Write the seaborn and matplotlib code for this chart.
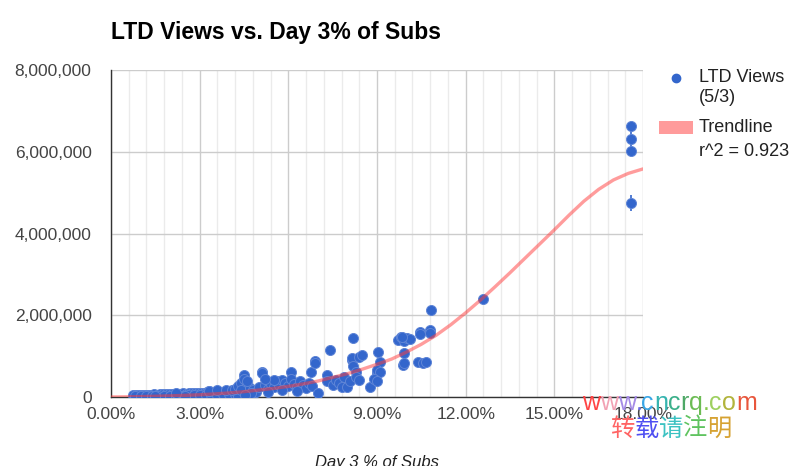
import numpy as np
import pandas as pd
import matplotlib
matplotlib.use("Agg")
import matplotlib.pyplot as plt
import matplotlib.ticker as mticker
from matplotlib.transforms import IdentityTransform
from matplotlib.patches import Rectangle
import seaborn as sns

# -------------------------------------------------------
# Data
# day 3 % of subs (in percent), LTD views (in thousands)
# -------------------------------------------------------
day3_pct = [
    0.75, 0.85, 0.95, 1.05, 1.15, 1.25, 1.35, 1.45, 1.55, 1.65, 1.75, 1.85,
    1.95, 2.05, 2.15, 2.25, 2.35, 2.45, 2.55, 2.65, 2.75, 2.85, 2.95, 3.05,
    3.15, 3.25, 3.35, 3.45, 3.55, 3.65, 3.75, 3.85, 3.95, 4.05, 4.15, 4.25,
    4.35,
    0.8, 1.0, 1.2, 1.4, 1.6, 1.8, 2.0, 2.2, 2.4, 2.6, 2.8, 3.0, 3.2, 3.4,
    3.6, 3.8, 4.0, 4.2,
    1.5, 2.5, 3.3, 4.3, 2.2, 3.3, 3.6, 3.9, 4.1,
    4.2, 4.3, 4.4, 4.5, 4.5, 4.6, 4.4, 4.7, 4.8, 4.6, 4.9, 4.75, 4.55,
    5.1, 5.1, 5.0, 5.2, 5.3, 5.4, 5.5, 5.6, 5.7, 5.8, 5.9, 6.0, 6.1, 6.1,
    6.2, 6.3, 6.4, 6.5, 6.6, 6.75, 6.7, 6.8, 6.9, 6.9, 7.0, 5.3, 5.8, 6.3,
    5.5, 5.2,
    7.4, 7.3, 7.3, 7.5, 7.6, 7.7, 7.8, 7.9, 8.0, 8.1, 8.2, 8.17, 8.17, 8.2,
    8.3, 8.4, 8.3, 8.4, 8.5, 8.78, 9.0, 9.05, 9.1, 9.0, 9.1, 8.9, 9.0,
    9.7, 9.8, 9.9, 10.0, 10.1, 9.85, 10.47, 10.47, 10.8, 10.8, 10.84,
    9.93, 9.87, 9.9, 10.4, 10.55, 10.65,
    12.6, 17.6, 17.6, 17.6, 17.6,
]
ltd_views_k = [
    45, 50, 40, 55, 48, 60, 52, 65, 58, 70, 62, 75,
    68, 80, 72, 85, 78, 90, 82, 95, 88, 100, 92, 105,
    98, 112, 104, 118, 108, 125, 115, 130, 120, 138, 128, 145,
    135,
    15, 18, 20, 22, 25, 28, 30, 33, 36, 40, 44, 48, 52, 56,
    60, 65, 70, 75,
    15, 25, 140, 30, 110, 150, 160, 175, 180,
    200, 260, 350, 540, 450, 300, 180, 220, 160, 400, 120, 90, 60,
    610, 580, 250, 300, 200, 330, 250, 380, 300, 420, 350, 280, 600, 450,
    330, 250, 380, 300, 220, 610, 350, 260, 880, 830, 110, 120, 180, 150,
    420, 450,
    1150, 540, 380, 300, 420, 350, 250, 480, 250, 400, 1440, 900, 950, 750,
    620, 980, 500, 420, 1030, 250, 580, 1100, 860, 650, 600, 450, 380,
    1400, 1460, 1380, 1440, 1420, 1470, 1600, 1540, 1640, 1570, 2130,
    1070, 780, 820, 850, 830, 860,
    2390, 6620, 6300, 6020, 4750,
]

# polynomial trendline, every 0.5 %
trend_pct = [0, 0.5, 1, 1.5, 2, 2.5, 3, 3.5, 4, 4.5, 5, 5.5, 6, 6.5, 7, 7.5,
             8, 8.5, 9, 9.5, 10, 10.5, 11, 11.5, 12, 12.5, 13, 13.5, 14, 14.5,
             15, 15.5, 16, 16.5, 17, 17.5, 18]
trend_views_k = [0, 4, 10, 18, 28, 40, 55, 75, 100, 130, 170, 210, 260, 320,
                 390, 480, 570, 680, 800, 930, 1100, 1290, 1510, 1770, 2060,
                 2370, 2700, 3040, 3390, 3740, 4090, 4450, 4790, 5080, 5310,
                 5470, 5580]

# spread of the stacked points at 17.6 %
spread_pct = [17.6, 17.6]
spread_mid_k = [4750, 6310]
spread_half_k = [200, 310]

title = "LTD Views vs. Day 3% of Subs"
x_title = "Day 3 % of Subs"
y_ticks = [0, 2000000, 4000000, 6000000, 8000000]

BLUE = "#3366cc"
TREND = "#ff3b3b"
TXT = "#444444"

df = pd.DataFrame({"pct": np.array(day3_pct) / 100.0,
                   "views": np.array(ltd_views_k) * 1000.0})
df_trend = pd.DataFrame({"pct": np.array(trend_pct) / 100.0,
                         "views": np.array(trend_views_k) * 1000.0})

sns.set_style("white")
plt.rcParams["font.family"] = ["Liberation Sans", "DejaVu Sans"]

fig = plt.figure(figsize=(8, 4.66), dpi=100)
ax = fig.add_axes([111 / 800, 1 - 397 / 466, 532 / 800, 327 / 466])

# grid
ax.set_xlim(0, 0.18)
ax.set_ylim(0, 8000000)
ax.xaxis.set_major_locator(mticker.MultipleLocator(0.03))
ax.xaxis.set_minor_locator(mticker.MultipleLocator(0.006))
ax.set_yticks(y_ticks)
ax.grid(which="major", axis="both", color="#cccccc", lw=1)
ax.grid(which="minor", axis="x", color="#ebebeb", lw=1)
ax.set_axisbelow(True)

# points
ax.errorbar(np.array(spread_pct) / 100.0, np.array(spread_mid_k) * 1000.0,
            yerr=np.array(spread_half_k) * 1000.0, fmt="none",
            ecolor=BLUE, elinewidth=1.2, zorder=2)
sns.scatterplot(data=df, x="pct", y="views", ax=ax, color=BLUE, s=52,
                edgecolor="#5f85d6", linewidth=0.7, alpha=1.0, zorder=3,
                legend=False)

# trendline
sns.lineplot(data=df_trend, x="pct", y="views", ax=ax, color=TREND,
             lw=2.4, alpha=0.5, zorder=4, legend=False)

# axes styling
for side in ["top", "right"]:
    ax.spines[side].set_visible(False)
for side in ["left", "bottom"]:
    ax.spines[side].set_color("#333333")
    ax.spines[side].set_linewidth(1)
ax.xaxis.set_major_formatter(mticker.FuncFormatter(lambda v, p: f"{v * 100:.2f}%"))
ax.yaxis.set_major_formatter(mticker.FuncFormatter(lambda v, p: f"{int(round(v)):,}"))
ax.tick_params(axis="x", which="both", length=0, pad=7, labelsize=12.5, labelcolor=TXT)
ax.tick_params(axis="y", length=0, pad=14, labelsize=12.5, labelcolor=TXT)
ax.set_xlabel("")
ax.set_ylabel("")

# titles
fig.text(111 / 800, 1 - 39 / 466, title, fontsize=16.5, fontweight="bold",
         color="#000000", ha="left", va="baseline")
fig.text(377 / 800, 1 - 462 / 466, x_title, fontsize=12, style="italic",
         color="#222222", ha="center", va="center")

# legend (drawn by hand, two lines per entry)
fig.add_artist(plt.Line2D([676 / 800], [1 - 78 / 466], marker="o", ms=6,
                          color=BLUE, transform=fig.transFigure))
legend_lines = [("LTD Views", 78), ("(5/3)", 97),
                ("Trendline", 128), ("r^2 = 0.923", 152)]
for txt, ypix in legend_lines:
    fig.text(699 / 800, 1 - ypix / 466, txt, fontsize=13, color="#222222",
             va="center")
fig.add_artist(Rectangle((659 / 800, 1 - 134 / 466), 34 / 800, 13 / 466,
                         transform=fig.transFigure, color="#ff9b9b", lw=0))

# watermark over the bottom right corner
renderer = fig.canvas.get_renderer()


def rainbow_text(x0, y0, chars, colors, size, family):
    for i, (ch, col) in enumerate(zip(chars, colors)):
        x = x0
        if i > 0:
            probe = fig.text(0, 0, chars[:i], fontsize=size, family=family,
                             transform=IdentityTransform())
            x += probe.get_window_extent(renderer).width
            probe.remove()
        fig.text(x, y0, ch, color=col, fontsize=size, family=family,
                 transform=IdentityTransform(), ha="left", va="baseline",
                 zorder=10)


rainbow_text(582, 466 - 410, "www.cncrq.com",
             ["#ff4444", "#f2a2b4", "#a58be6", "#6a6ae8", "#3aa6e6", "#36b4b0",
              "#3cb08a", "#4ea866", "#6cbc54", "#86c84e", "#9ed060", "#b2b43c",
              "#e8563c"],
             18, ["Liberation Sans", "DejaVu Sans"])
rainbow_text(610, 466 - 436, "转载请注明",
             ["#ff6464", "#4f4ff2", "#3cc2c2", "#5fc35f", "#d6a232"],
             17.5, ["Noto Sans CJK SC", "DejaVu Sans"])

fig.savefig("out.png", dpi=100)
